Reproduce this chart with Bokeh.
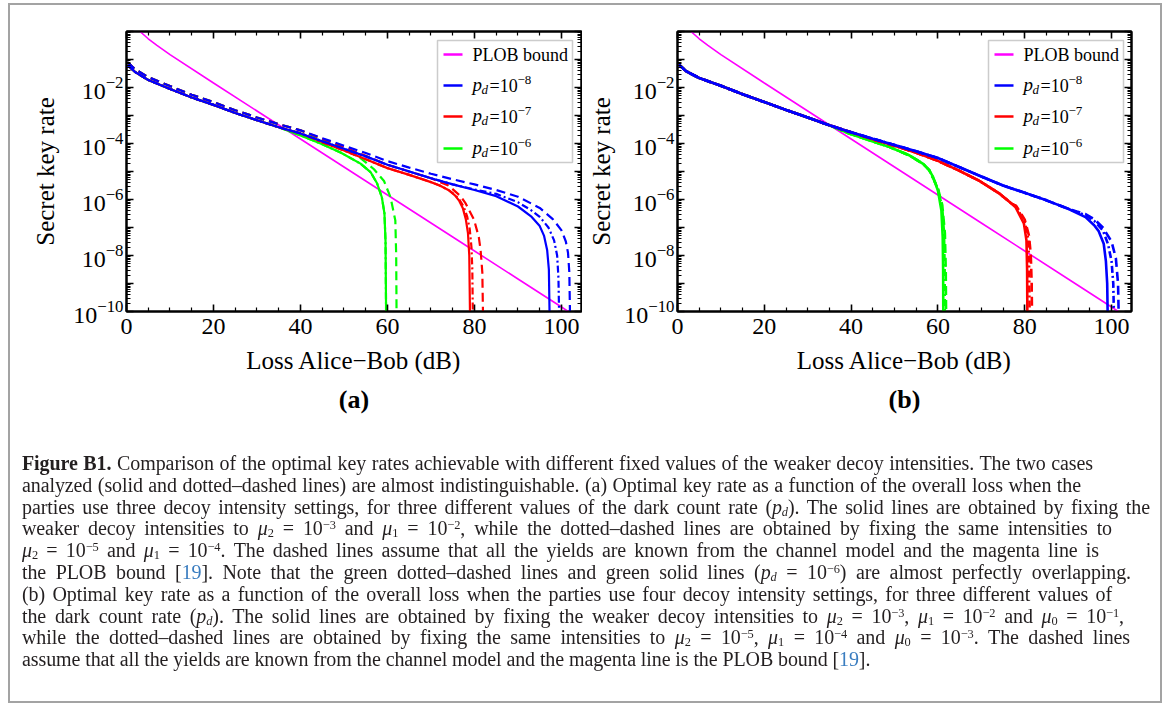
import numpy as np
from bokeh.plotting import figure
from bokeh.models import (FixedTicker, LinearAxis, LogAxis, Label, BoxAnnotation,
                          Title, Div, Range1d, LogTickFormatter)
from bokeh.layouts import row, column
from bokeh.embed import file_html
from bokeh.resources import INLINE

FONT = "Liberation Serif"

# ---------------- axis ticks ----------------
x_ticks = [0, 20, 40, 60, 80, 100]
x_tick_labels = ["0", "20", "40", "60", "80", "100"]
x_minor = [5, 10, 15, 25, 30, 35, 45, 50, 55, 65, 70, 75, 85, 90, 95]
y_ticks = [1e-10, 1e-9, 1e-8, 1e-7, 1e-6, 1e-5, 1e-4, 1e-3, 1e-2, 1e-1, 1e0]
# labelled decades: 10^-10, 10^-8, 10^-6, 10^-4, 10^-2 (base 10 with superscript exponent)
y_labelled = [1e-10, 1e-8, 1e-6, 1e-4, 1e-2]
y_unlabelled = [1e-9, 1e-7, 1e-5, 1e-3, 1e-1, 1e0]
y_minor = [m * t for t in y_ticks[:-1] for m in (2, 3, 4, 5, 6, 7, 8, 9)]

# ---------------- PLOB bound (both panels) ----------------
plob_L = [3.1, 5, 7, 10, 20, 30, 40, 50, 60, 70, 80, 90, 100, 102]
plob_rate = [1.0, 0.55, 0.32, 0.15, 1.45e-2, 1.45e-3, 1.45e-4, 1.45e-5, 1.45e-6,
             1.45e-7, 1.45e-8, 1.45e-9, 1.45e-10, 9.0e-11]

# ---------------- panel (a): log10(key rate) ----------------
base_L = [0.3, 2, 5, 10, 15, 20, 25, 30, 35, 40]
a_base_solid = [-1.20, -1.45, -1.73, -2.05, -2.36, -2.62, -2.91, -3.17, -3.42, -3.64]
a_base_dashed = [-1.10, -1.35, -1.63, -1.95, -2.26, -2.52, -2.81, -3.07, -3.31, -3.53]

a_blue_solid_L = base_L + [45, 50, 55, 60, 65, 70, 75, 80, 85, 90, 93, 95, 96, 96.7, 97.1, 97.3]
a_blue_solid = a_base_solid + [-3.92, -4.19, -4.46, -4.76, -5.00, -5.24, -5.46, -5.66, -5.88,
                               -6.25, -6.60, -6.95, -7.30, -7.80, -8.50, -10.5]
a_blue_dd_L = base_L + [45, 50, 55, 60, 65, 70, 75, 80, 85, 90, 93, 95, 97, 98.3, 99, 99.3, 99.5]
a_blue_dd = a_base_solid + [-3.92, -4.19, -4.46, -4.76, -5.00, -5.24, -5.46, -5.64, -5.80,
                            -6.10, -6.38, -6.62, -7.00, -7.46, -8.00, -8.80, -10.5]
a_blue_dash_L = base_L + [45, 50, 55, 60, 65, 70, 75, 80, 85, 90, 95, 98, 100, 101, 101.5, 101.8, 102]
a_blue_dash = a_base_dashed + [-3.81, -4.08, -4.34, -4.63, -4.86, -5.08, -5.28, -5.46, -5.66,
                               -5.90, -6.30, -6.70, -7.10, -7.50, -7.90, -8.60, -10.5]

a_red_solid_L = base_L + [45, 50, 55, 60, 65, 70, 72, 74, 75.5, 76.5, 77.3, 78, 78.5, 78.8, 79.0]
a_red_solid = a_base_solid + [-3.95, -4.25, -4.56, -4.88, -5.12, -5.38, -5.50, -5.66, -5.85,
                              -6.05, -6.30, -6.70, -7.20, -8.00, -10.5]
a_red_dd_L = base_L + [45, 50, 55, 60, 65, 70, 72, 74, 75.5, 76.5, 77.5, 78.3, 78.9, 79.3, 79.5, 79.65]
a_red_dd = a_base_solid + [-3.95, -4.25, -4.56, -4.88, -5.12, -5.38, -5.50, -5.66, -5.83,
                           -6.00, -6.25, -6.60, -7.05, -7.70, -8.50, -10.5]
a_red_dash_L = base_L + [45, 50, 55, 60, 65, 70, 74, 76.8, 78, 79.9, 81, 81.4, 81.8, 82.0]
a_red_dash = a_base_dashed + [-3.83, -4.13, -4.44, -4.76, -5.00, -5.24, -5.50, -5.88, -6.15,
                              -6.72, -7.35, -7.80, -8.60, -10.5]

a_green_solid_L = base_L[:-1] + [40, 44.6, 49.2, 53.8, 56.1, 57.6, 58.7, 59.3, 59.55, 59.7]
a_green_solid = a_base_solid[:-1] + [-3.71, -4.00, -4.32, -4.72, -5.02, -5.42, -5.92, -6.50,
                                     -7.50, -10.5]
a_green_dd_L = a_green_solid_L
a_green_dd = a_green_solid
a_green_dash_L = base_L + [45, 50, 53.8, 56.9, 59.2, 60.7, 61.8, 62.0, 62.1]
a_green_dash = a_base_dashed + [-3.87, -4.20, -4.52, -4.92, -5.34, -5.92, -6.75, -8.00, -10.5]

# ---------------- panel (b) ----------------
b_base = [-1.18, -1.42, -1.66, -1.94, -2.24, -2.52, -2.80, -3.07, -3.35, -3.60]
b_blue_mid_L = [45, 50, 55, 60, 65, 70, 75, 80, 85, 90]
b_blue_mid = [-3.83, -4.05, -4.28, -4.52, -4.85, -5.18, -5.50, -5.76, -6.03, -6.33]

b_blue_solid_L = base_L + b_blue_mid_L + [94, 96, 97, 98.2, 98.7, 99.0, 99.15]
b_blue_solid = b_base + b_blue_mid + [-6.63, -6.92, -7.12, -7.58, -8.20, -9.00, -10.5]
b_blue_dd_L = base_L + b_blue_mid_L + [92, 94, 96, 98, 99.2, 100, 100.4, 100.6]
b_blue_dd = b_base + b_blue_mid + [-6.45, -6.56, -6.76, -7.10, -7.60, -8.20, -9.00, -10.5]
b_blue_dash_L = base_L + b_blue_mid_L + [92, 94, 96, 98, 100, 101, 101.5, 101.7]
b_blue_dash = b_base + b_blue_mid + [-6.43, -6.52, -6.70, -7.00, -7.50, -8.10, -9.00, -10.5]

b_red_mid_L = [45, 50, 55, 60, 65, 69.5, 74.1, 77]
b_red_mid = [-3.85, -4.08, -4.33, -4.62, -4.98, -5.33, -5.78, -6.15]
b_red_solid_L = base_L + b_red_mid_L + [77.9, 79.8, 80.4, 80.55, 80.62]
b_red_solid = b_base + b_red_mid + [-6.28, -6.85, -7.46, -8.50, -10.5]
b_red_dd_L = base_L + b_red_mid_L + [78, 80, 80.8, 81.0, 81.15]
b_red_dd = b_base + b_red_mid + [-6.25, -6.80, -7.40, -8.20, -10.5]
b_red_dash_L = base_L + b_red_mid_L + [78, 80, 81, 81.4, 81.6, 81.7]
b_red_dash = b_base + b_red_mid + [-6.22, -6.72, -7.30, -8.00, -9.00, -10.5]

b_green_mid_L = [39.7, 44.3, 48.9, 53.5, 56.6, 58]
b_green_mid = [-3.65, -3.89, -4.13, -4.43, -4.73, -4.95]
b_green_solid_L = base_L[:-1] + b_green_mid_L + [58.9, 60, 60.8, 61.1, 61.2, 61.25]
b_green_solid = b_base[:-1] + b_green_mid + [-5.20, -5.68, -6.39, -7.35, -8.50, -10.5]
b_green_dd_L = base_L[:-1] + b_green_mid_L + [60, 61, 61.4, 61.55, 61.6]
b_green_dd = b_base[:-1] + b_green_mid + [-5.62, -6.30, -7.20, -8.50, -10.5]
b_green_dash_L = base_L[:-1] + b_green_mid_L + [60, 61, 61.6, 61.8, 61.9]
b_green_dash = b_base[:-1] + b_green_mid + [-5.60, -6.20, -7.20, -8.50, -10.5]

legend_labels = ["PLOB bound", "p", "p", "p"]
legend_subs = ["", "d", "d", "d"]
legend_values = ["", "=10", "=10", "=10"]
legend_exps = ["", "−8", "−7", "−6"]
legend_colors = ["#ff00ff", "#0000ff", "#ff0000", "#00ff00"]

MAGENTA, BLUE, RED, GREEN = "#ff00ff", "#0000ff", "#ff0000", "#00ff00"
DASH = "9 5"
DOTDASH = "7 3 2 3"


def style_axis(ax, show_labels=True):
    ax.major_tick_in = 7
    ax.major_tick_out = 0
    ax.minor_tick_in = 4
    ax.minor_tick_out = 0
    ax.major_tick_line_color = "black"
    ax.minor_tick_line_color = "black"
    ax.major_tick_line_width = 1.6
    ax.minor_tick_line_width = 1.2
    ax.axis_line_color = "black"
    ax.axis_line_width = 2
    ax.major_label_text_font = FONT
    ax.major_label_text_color = "black"
    if show_labels:
        ax.major_label_text_font_size = "24px"
        ax.major_label_standoff = 4
    else:
        ax.major_label_text_font_size = "0px"
        ax.major_label_standoff = 0
    ax.axis_label_text_font = FONT
    ax.axis_label_text_font_size = "25px"
    ax.axis_label_text_font_style = "normal"
    ax.axis_label_text_color = "black"


def screen_label(p, x, y, text, size, style="normal"):
    p.add_layout(Label(x=x, y=y, x_units="screen", y_units="screen", text=text,
                       text_font=FONT, text_font_size=size, text_font_style=style,
                       text_baseline="middle", text_color="black"))


def make_panel(width, border_left, border_right, ylabel_standoff, tag, curves, lw):
    p = figure(width=width, height=430, x_range=Range1d(0, 104.6),
               y_range=Range1d(1e-10, 1.0), y_axis_type="log",
               output_backend="svg", toolbar_location=None,
               min_border_left=border_left, min_border_right=border_right,
               min_border_top=31, min_border_bottom=119)
    p.xgrid.visible = False
    p.ygrid.visible = False
    p.outline_line_color = "black"
    p.outline_line_width = 2
    p.background_fill_color = "white"
    p.border_fill_color = "white"

    xt = FixedTicker(ticks=x_ticks, minor_ticks=x_minor)
    yt = FixedTicker(ticks=y_ticks, minor_ticks=y_minor)

    xa = p.xaxis[0]
    xa.ticker = xt
    xa.major_label_overrides = {t: l for t, l in zip(x_ticks, x_tick_labels)}
    xa.axis_label = "Loss Alice−Bob (dB)"
    style_axis(xa)
    xa.major_label_standoff = 7
    xa.axis_label_standoff = 10

    ya = p.yaxis[0]
    ya.ticker = yt
    ya.formatter = LogTickFormatter(min_exponent=0)
    ya.major_label_overrides = {t: "" for t in y_unlabelled}
    ya.axis_label = "Secret key rate"
    style_axis(ya)
    ya.major_label_standoff = 3
    ya.axis_label_standoff = ylabel_standoff

    top = LinearAxis(ticker=xt)
    top.major_label_overrides = {t: "" for t in x_ticks}
    style_axis(top, show_labels=False)
    p.add_layout(top, "above")
    right = LogAxis(ticker=yt)
    right.major_label_overrides = {t: "" for t in y_ticks}
    style_axis(right, show_labels=False)
    p.add_layout(right, "right")

    p.line(plob_L, plob_rate, line_color=MAGENTA, line_width=1.6)
    for L, lg, color, dash in curves:
        p.line(L, np.power(10.0, np.array(lg)), line_color=color, line_width=lw,
               line_dash=dash)

    # legend box (screen units relative to the plot frame)
    p.add_layout(BoxAnnotation(left=311, right=446, top=271, bottom=149,
                               left_units="screen", right_units="screen",
                               top_units="screen", bottom_units="screen",
                               fill_color="white", fill_alpha=1.0,
                               line_color="#555555", line_width=1.5))
    rows_y = [257, 226, 195, 163]
    for i in range(4):
        yc = rows_y[i]
        p.add_layout(BoxAnnotation(left=317, right=336, top=yc + 1.3, bottom=yc - 1.3,
                                   left_units="screen", right_units="screen",
                                   top_units="screen", bottom_units="screen",
                                   fill_color=legend_colors[i], fill_alpha=1.0,
                                   line_color=None))
        if i == 0:
            screen_label(p, 346, yc, legend_labels[i], "18px")
        else:
            screen_label(p, 346, yc + 1, legend_labels[i], "19px", "italic")
            screen_label(p, 355, yc - 4, legend_subs[i], "13px", "italic")
            screen_label(p, 363, yc, legend_values[i], "18px")
            screen_label(p, 391, yc + 6, legend_exps[i], "13px")

    p.add_layout(Title(text=tag, align="center", text_font=FONT,
                       text_font_size="26px", text_font_style="bold",
                       text_color="black", standoff=12), "below")
    return p


curves_a = [
    (a_green_dash_L, a_green_dash, GREEN, DASH),
    (a_green_dd_L, a_green_dd, GREEN, DOTDASH),
    (a_green_solid_L, a_green_solid, GREEN, "solid"),
    (a_red_dash_L, a_red_dash, RED, DASH),
    (a_red_dd_L, a_red_dd, RED, DOTDASH),
    (a_red_solid_L, a_red_solid, RED, "solid"),
    (a_blue_dash_L, a_blue_dash, BLUE, DASH),
    (a_blue_dd_L, a_blue_dd, BLUE, DOTDASH),
    (a_blue_solid_L, a_blue_solid, BLUE, "solid"),
]
curves_b = [
    (b_green_dash_L, b_green_dash, GREEN, DASH),
    (b_green_dd_L, b_green_dd, GREEN, DOTDASH),
    (b_green_solid_L, b_green_solid, GREEN, "solid"),
    (b_red_dash_L, b_red_dash, RED, DASH),
    (b_red_dd_L, b_red_dd, RED, DOTDASH),
    (b_red_solid_L, b_red_solid, RED, "solid"),
    (b_blue_dash_L, b_blue_dash, BLUE, DASH),
    (b_blue_dd_L, b_blue_dd, BLUE, DOTDASH),
    (b_blue_solid_L, b_blue_solid, BLUE, "solid"),
]

p1 = make_panel(582, 126, 1, 11, "(a)", curves_a, 2.2)
p2 = make_panel(589, 95, 40, 6, "(b)", curves_b, 2.6)

REF = '[<span style="color:#3a7dc0">19</span>]'
MU = lambda k: f'<i>μ</i><sub>{k}</sub>'
TEN = lambda e: f'10<sup>−{e}</sup>'
caption_lines = [
    '<b>Figure B1.</b> Comparison of the optimal key rates achievable with different fixed values of the weaker decoy intensities. The two cases',
    'analyzed (solid and dotted–dashed lines) are almost indistinguishable. (a) Optimal key rate as a function of the overall loss when the',
    'parties use three decoy intensity settings, for three different values of the dark count rate (<i>p<sub>d</sub></i>). The solid lines are obtained by fixing the',
    f'weaker decoy intensities to {MU(2)} = {TEN(3)} and {MU(1)} = {TEN(2)}, while the dotted–dashed lines are obtained by fixing the same intensities to',
    f'{MU(2)} = {TEN(5)} and {MU(1)} = {TEN(4)}. The dashed lines assume that all the yields are known from the channel model and the magenta line is',
    f'the PLOB bound {REF}. Note that the green dotted–dashed lines and green solid lines (<i>p<sub>d</sub></i> = {TEN(6)}) are almost perfectly overlapping.',
    '(b) Optimal key rate as a function of the overall loss when the parties use four decoy intensity settings, for three different values of',
    f'the dark count rate (<i>p<sub>d</sub></i>). The solid lines are obtained by fixing the weaker decoy intensities to {MU(2)} = {TEN(3)}, {MU(1)} = {TEN(2)} and {MU(0)} = {TEN(1)},',
    f'while the dotted–dashed lines are obtained by fixing the same intensities to {MU(2)} = {TEN(5)}, {MU(1)} = {TEN(4)} and {MU(0)} = {TEN(3)}. The dashed lines',
    f'assume that all the yields are known from the channel model and the magenta line is the PLOB bound {REF}.',
]
# right end (px) of each caption line in the picture; None = natural width
caption_line_ends = [1093, 1081, 1150, 1112, 1099, 1131, 1112, 1124, 1130, None]
CAP_LEFT = 22

line_divs = []
for txt, end in zip(caption_lines, caption_line_ends):
    if end is None:
        line_divs.append(f'<div class="ln">{txt}</div>')
    else:
        line_divs.append(f'<div class="ln j" style="width:{end - CAP_LEFT}px">{txt}</div>')

cap_html = (
    '<style>sup{font-size:62%;line-height:0;vertical-align:0.5em;}'
    'sub{font-size:62%;line-height:0;vertical-align:-0.15em;}'
    '.ln{height:21.8px;line-height:21.8px;white-space:nowrap;letter-spacing:-0.1px;}'
    '.j{text-align:justify;text-align-last:justify;}</style>'
    '<div style="position:fixed;left:8px;top:3px;width:1154px;height:700px;'
    'border:2px solid #a3a3a3;pointer-events:none;"></div>'
    '<div style="position:absolute;left:17px;top:18px;font-family:\'Liberation Serif\';'
    'font-size:20px;color:#231f20;">'
    + ''.join(line_divs) + '</div>'
)
cap = Div(text=cap_html, width=1171, height=279)

layout = column(row(p1, p2), cap)
open("out.html", "w").write(file_html(layout, INLINE))
